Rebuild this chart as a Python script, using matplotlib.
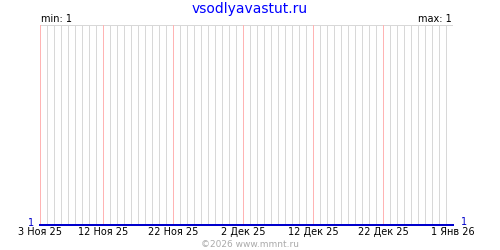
import matplotlib
matplotlib.use("Agg")
import matplotlib.pyplot as plt
import numpy as np

# Data
days = list(range(0, 60))          # 3 Nov 2025 .. 1 Jan 2026 (day index)
values = [1] * 60
tick_days = [0, 9, 19, 29, 39, 49, 59]
tick_labels = ["3 Ноя 25", "12 Ноя 25", "22 Ноя 25", "2 Дек 25", "12 Дек 25", "22 Дек 25", "1 Янв 26"]
title = "vsodlyavastut.ru"
min_val = 1
max_val = 1

fig = plt.figure(figsize=(5, 2.5), dpi=100)
ax = fig.add_axes([0.08, 0.1, 0.826, 0.8])
ax.set_xlim(days[0], days[-1])
ax.set_ylim(1, 2)

minor_days = [d for d in days if d not in tick_days]
ax.vlines(minor_days, 1, 2, colors="#d8d8d8", lw=0.72, zorder=1, antialiased=False)
ax.vlines(tick_days, 1, 2, colors="#ffb4b4", lw=0.72, zorder=2, antialiased=False)
ax.axhline(2, color="#d8d8d8", lw=0.72, zorder=1, antialiased=False)

ax.plot(days, values, color="#0000cc", lw=1.3, zorder=3, clip_on=False, antialiased=False)

for s in ax.spines.values():
    s.set_visible(False)
ax.set_yticks([])
ax.set_xticks(tick_days)
ax.set_xticklabels(tick_labels, fontsize=7, color="black")
ax.tick_params(axis="x", length=0, pad=1.5)

fig.text(0.5, 0.965, title, ha="center", va="center", fontsize=10, color="#0000ff")
fig.text(0.082, 0.905, f"min: {min_val}", ha="left", va="bottom", fontsize=7)
fig.text(0.904, 0.905, f"max: {max_val}", ha="right", va="bottom", fontsize=7)
fig.text(0.062, 0.108, str(min_val), ha="center", va="center", fontsize=7, color="#0000cc")
fig.text(0.928, 0.112, str(max_val), ha="center", va="center", fontsize=7, color="#0000cc")
fig.text(0.5, 0.022, "©2026 www.mmnt.ru", ha="center", va="center", fontsize=6.5, color="#aaaaaa")

fig.savefig("out.png", dpi=100)
